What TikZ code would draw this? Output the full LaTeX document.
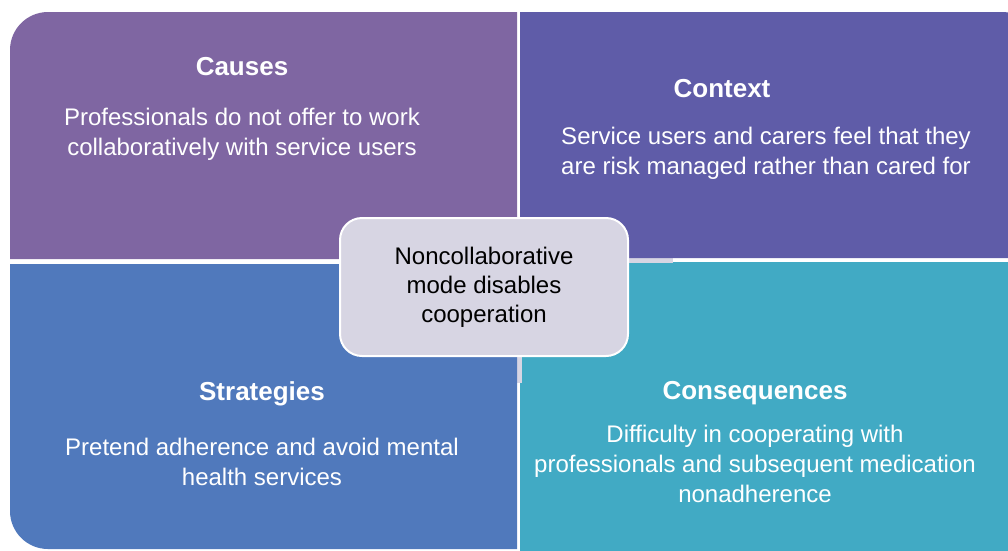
\documentclass[tikz,border=0pt]{standalone}
\usepackage{fontspec}
\setmainfont{Liberation Sans}
\definecolor{causescol}{HTML}{7F66A2}
\definecolor{contextcol}{HTML}{5F5CA8}
\definecolor{strategycol}{HTML}{5079BC}
\definecolor{consequcol}{HTML}{41AAC4}
\definecolor{corecol}{HTML}{D7D5E3}
\tikzset{
  title/.style={text=white,font=\fontsize{26}{30}\selectfont\bfseries},
  body/.style={text=white,align=center,font=\fontsize{24}{30}\selectfont},
  core/.style={draw=white,line width=2pt,fill=corecol,rounded corners=22pt,
    minimum width=288pt,minimum height=138pt,align=center,
    font=\fontsize{24}{29}\selectfont},
}
\begin{document}
\begin{tikzpicture}[x=1pt,y=-1pt]
  \useasboundingbox (0,0) rectangle (1008,550);
  \clip (0,0) rectangle (1008,550);
  \pgfmathsetmacro{\r}{38}

  % lavender showing through the gaps
  \fill[corecol] (517,255) rectangle (673,383);

  % quadrants
  \fill[causescol] (517,259) -- (10,259) -- (10,12+\r)
    arc[start angle=180,end angle=270,radius=\r] -- (517,12) -- cycle;
  \fill[contextcol] (520,12) -- (1040-\r,12)
    arc[start angle=270,end angle=360,radius=\r] -- (1040,258) -- (520,258) -- cycle;
  \fill[strategycol] (517,264) -- (10,264) -- (10,549-\r)
    arc[start angle=180,end angle=90,radius=\r] -- (517,549) -- cycle;
  \fill[consequcol] (522,263) -- (673,263) -- (673,262) -- (1040,262)
    -- (1040,580) -- (520,580) -- (520,383) -- (522,383) -- cycle;

  \node[title] (causes) at (242,67) {Causes};
  \node[body] (causestxt) at (242,134) {Professionals do not offer to work\\collaboratively with service users};

  \node[title] (context) at (722,89) {Context};
  \node[body] (contexttxt) at (766,153.5) {Service users and carers feel that they\\are risk managed rather than cared for};

  \node[title] (strat) at (262,394) {Strategies};
  \node[body] (strattxt) at (262,462) {Pretend adherence and avoid mental\\health services};

  \node[title] (conseq) at (755,393) {Consequences};
  \node[body] (conseqtxt) at (755,464) {Difficulty in cooperating with\\professionals and subsequent medication\\nonadherence};

  \node[core] (mode) at (484,287) {Noncollaborative\\mode disables\\cooperation};
\end{tikzpicture}
\end{document}
